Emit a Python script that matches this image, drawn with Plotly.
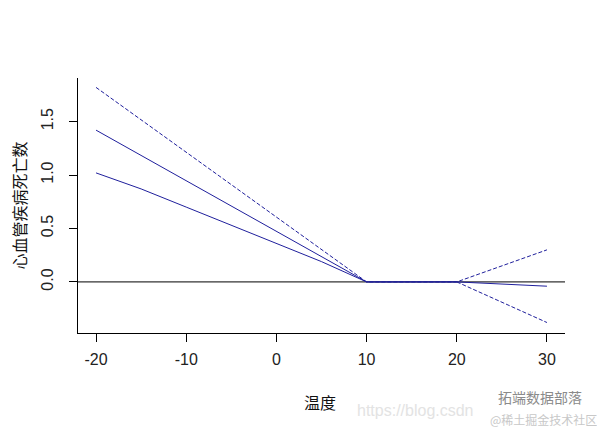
import plotly.graph_objects as go

# ---- data ----
temp_main = [-20, 10, 20, 30]
est_main = [1.42, 0.0, 0.0, -0.04]

temp_upper = [-20, 10, 20, 30]
est_upper = [1.82, 0.0, 0.0, 0.30]

temp_lower_left = [-20, -15, -10, -5, 0, 5, 10, 20]
est_lower_left = [1.02, 0.87, 0.70, 0.53, 0.36, 0.19, 0.0, 0.0]
temp_lower_right = [20, 30]
est_lower_right = [0.0, -0.38]

x_ticks = [-20, -10, 0, 10, 20, 30]
x_ticktext = ["-20", "-10", "0", "10", "20", "30"]
y_ticks = [0.0, 0.5, 1.0, 1.5]
y_ticktext = ["0.0", "0.5", "1.0", "1.5"]

x_title = "温度"
y_title = "心血管疾病死亡数"

BLUE = "#1f1f9c"
CJK = "Noto Sans CJK SC"
LAT = "Liberation Sans, Arial, sans-serif"

fig = go.Figure()
fig.add_trace(go.Scatter(x=temp_upper, y=est_upper, mode="lines",
                         line=dict(color=BLUE, width=1, dash="4px,2px")))
fig.add_trace(go.Scatter(x=temp_lower_left, y=est_lower_left, mode="lines",
                         line=dict(color=BLUE, width=1)))
fig.add_trace(go.Scatter(x=temp_lower_right, y=est_lower_right, mode="lines",
                         line=dict(color=BLUE, width=1, dash="4px,2px")))
fig.add_trace(go.Scatter(x=temp_main, y=est_main, mode="lines",
                         line=dict(color=BLUE, width=1)))

# horizontal reference line at 0
fig.add_shape(type="line", xref="paper", yref="y", x0=0, x1=1, y0=0, y1=0,
              line=dict(color="black", width=1), layer="below")

fig.update_layout(
    width=605, height=431,
    margin=dict(l=70, r=48, t=70, b=106, autoexpand=False),
    paper_bgcolor="white", plot_bgcolor="white",
    showlegend=False,
    font=dict(family=LAT, size=16, color="#222"),
)
fig.update_xaxes(range=[-22, 32], tickvals=x_ticks, ticktext=x_ticktext,
                 showgrid=False, zeroline=False, automargin=False,
                 showline=True, linecolor="black", linewidth=1,
                 ticks="outside", ticklen=8, tickcolor="black",
                 ticklabelstandoff=4, tickfont=dict(size=16, family=LAT, color="#222"))
fig.update_yaxes(range=[-0.478, 1.908], tickvals=y_ticks, ticktext=y_ticktext,
                 showgrid=False, zeroline=False, automargin=False,
                 showline=True, linecolor="black", linewidth=1,
                 ticks="outside", ticklen=8, tickcolor="black", tickangle=-90,
                 ticklabelstandoff=10, tickfont=dict(size=16, family=LAT, color="#222"))

fig.add_annotation(text=x_title, xref="paper", yref="paper", x=0.497, y=-0.27,
                   xanchor="center", yanchor="middle", showarrow=False,
                   font=dict(family=CJK, size=16, color="#111"))
fig.add_annotation(text=y_title, xref="paper", yref="paper", x=-0.123, y=0.5,
                   xanchor="center", yanchor="middle", showarrow=False, textangle=-90,
                   font=dict(family=CJK, size=16, color="#111"))

# faint watermark texts
fig.add_annotation(text="https://blog.csdn", xref="paper", yref="paper",
                   x=0.569, y=-0.305, xanchor="left", yanchor="middle", showarrow=False,
                   font=dict(family=LAT, size=16, color="#e3e3e3"))
fig.add_annotation(text="拓端数据部落", xref="paper", yref="paper",
                   x=0.949, y=-0.25, xanchor="center", yanchor="middle", showarrow=False,
                   font=dict(family=CJK, size=14, color="#8a8a8a"))
fig.add_annotation(text="@稀土掘金技术社区", xref="paper", yref="paper",
                   x=1.07, y=-0.338, xanchor="right", yanchor="middle", showarrow=False,
                   font=dict(family=CJK, size=12, color="#c8c8c8"))

fig.write_html("out.html")
